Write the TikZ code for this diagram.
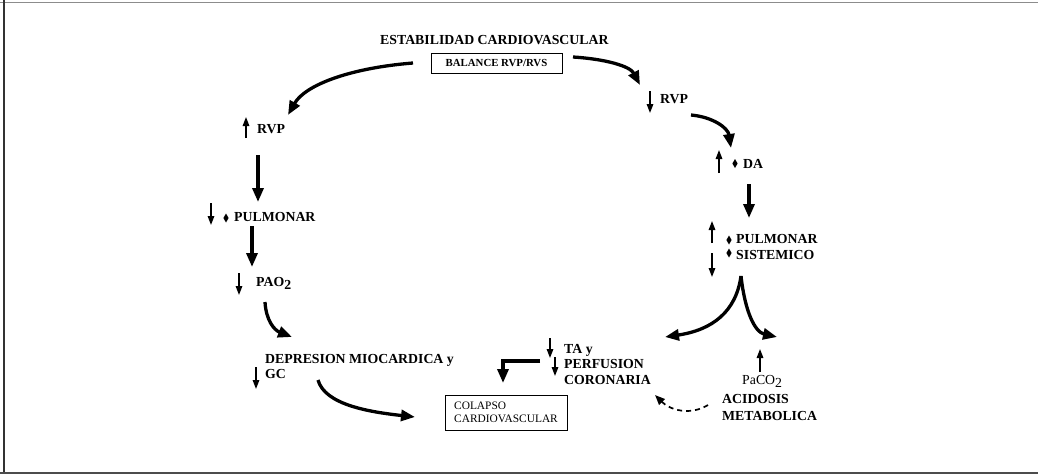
\documentclass[tikz,border=0pt]{standalone}
\usepackage{fontspec}
\setmainfont{Liberation Serif}
\usetikzlibrary{arrows.meta}
\begin{document}
\begin{tikzpicture}[x=1pt,y=-1pt,
  lbl/.style={font=\bfseries\fontsize{13.8}{15}\selectfont, inner sep=0pt, anchor=base west},
  lblr/.style={font=\fontsize{13.8}{15}\selectfont, inner sep=0pt, anchor=base west},
  bigarrow/.style={line width=3.3pt, -{Triangle[length=14pt,width=11pt]}},
  thinarrow/.style={line width=1.5pt, -{Triangle[length=9pt,width=6.5pt]}},
  dasharrow/.style={line width=1.7pt, dash pattern=on 5pt off 4pt, -{Triangle[length=10pt,width=8pt]}},
  box/.style={draw, line width=1pt, inner sep=0pt}
]
\useasboundingbox (0,0) rectangle (1038,474);
% frame
\draw[line width=1.5pt, black!45] (0,2.5) -- (1038,2.5);
\draw[line width=1.5pt, black!80] (4,0) -- (4,474);
\draw[line width=1.5pt, black!70] (0,473) -- (1038,473);

% top
\node[lbl] (title) at (380,44) {ESTABILIDAD CARDIOVASCULAR};
\node[box, minimum width=131pt, minimum height=20pt, font=\bfseries\fontsize{10.8}{12}\selectfont] (bal) at (496.5,63.5) {BALANCE RVP/RVS};

% left column
\node[lbl] (rvpL) at (257,133) {RVP};
\node[lbl] (pulL) at (234,221) {PULMONAR};
\node[lbl] (pao) at (256,286) {PAO\raisebox{-3.5pt}{2}};
\node[lbl] (dep) at (265,363) {DEPRESION MIOCARDICA y};
\node[lbl] (gc) at (265,378) {GC};

% bottom
\node[box, minimum width=122pt, minimum height=35pt, align=left, font=\fontsize{11.4}{13.5}\selectfont] (col) at (506,412.5) {COLAPSO\\CARDIOVASCULAR};
\node[lbl] (ta) at (564,353) {TA y};
\node[lbl] (perf) at (564,368.5) {PERFUSION};
\node[lbl] (cor) at (564,384) {CORONARIA};

% right column
\node[lbl] (rvpR) at (660,103) {RVP};
\node[lbl] (da) at (743,168) {DA};
\node[lbl] (pulR) at (736,243) {PULMONAR};
\node[lbl] (sis) at (736,259) {SISTEMICO};
\node[lblr] (paco) at (742,384) {PaCO\raisebox{-3.5pt}{2}};
\node[lbl] (acid) at (722,403) {ACIDOSIS};
\node[lbl] (meta) at (722,420) {METABOLICA};

% diamonds
\foreach \x/\y in {226/218, 735/163.5, 729/240, 729/253}
  \fill (\x,\y) +(0,-4.5) -- +(2.6,0) -- +(0,4.5) -- +(-2.6,0) -- cycle;

% coordinates
\coordinate (tlS) at (413,63);
\coordinate (tlE) at (288,115);
\coordinate (trS) at (573,57);
\coordinate (trE) at (640,85);
\coordinate (r1S) at (691,115);
\coordinate (r1E) at (731,148);
\coordinate (r2S) at (749,184);
\coordinate (r2E) at (749,218);
\coordinate (fk) at (741,276);
\coordinate (fkL) at (665,337);
\coordinate (fkR) at (777,337);
\coordinate (l1S) at (258,155);
\coordinate (l1E) at (258,202);
\coordinate (l2S) at (252,226);
\coordinate (l2E) at (252,267);
\coordinate (l3S) at (265,302);
\coordinate (l3E) at (292,337);
\coordinate (l4S) at (318,380);
\coordinate (l4E) at (415,417);
\coordinate (elS) at (540,361);
\coordinate (elE) at (503,383);
\coordinate (dS) at (708,405);
\coordinate (dE) at (655,395);

% big arrows
\draw[bigarrow] (tlS) .. controls (350,68) and (305,85) .. (tlE);
\draw[bigarrow] (trS) .. controls (605,59) and (630,66) .. (trE);
\draw[bigarrow] (r1S) .. controls (713,117) and (728,128) .. (r1E);
\draw[bigarrow] (r2S) -- (r2E);
\draw[bigarrow] (fk) .. controls (736,312) and (712,330) .. (fkL);
\draw[bigarrow] (fk) .. controls (745,312) and (755,332) .. (fkR);
\draw[bigarrow] (l1S) -- (l1E);
\draw[bigarrow] (l2S) -- (l2E);
\draw[bigarrow] (l3S) .. controls (266,320) and (274,330) .. (l3E);
\draw[bigarrow] (l4S) .. controls (325,405) and (370,412) .. (l4E);
\draw[bigarrow] (elS) -- (elS -| elE) -- (elE);
\draw[dasharrow] (dS) .. controls (690,416) and (670,410) .. (dE);

% thin arrows
\draw[thinarrow] (246,138) -- (246,117);
\draw[thinarrow] (211,203) -- (211,225);
\draw[thinarrow] (239,273) -- (239,295);
\draw[thinarrow] (256,367) -- (256,389);
\draw[thinarrow] (550,338) -- (550,358);
\draw[thinarrow] (555,357) -- (555,376);
\draw[thinarrow] (650,91) -- (650,113);
\draw[thinarrow] (719,173) -- (719,150);
\draw[thinarrow] (712,243) -- (712,221);
\draw[thinarrow] (712,253) -- (712,277);
\draw[thinarrow] (760,372) -- (760,349);
\end{tikzpicture}
\end{document}
